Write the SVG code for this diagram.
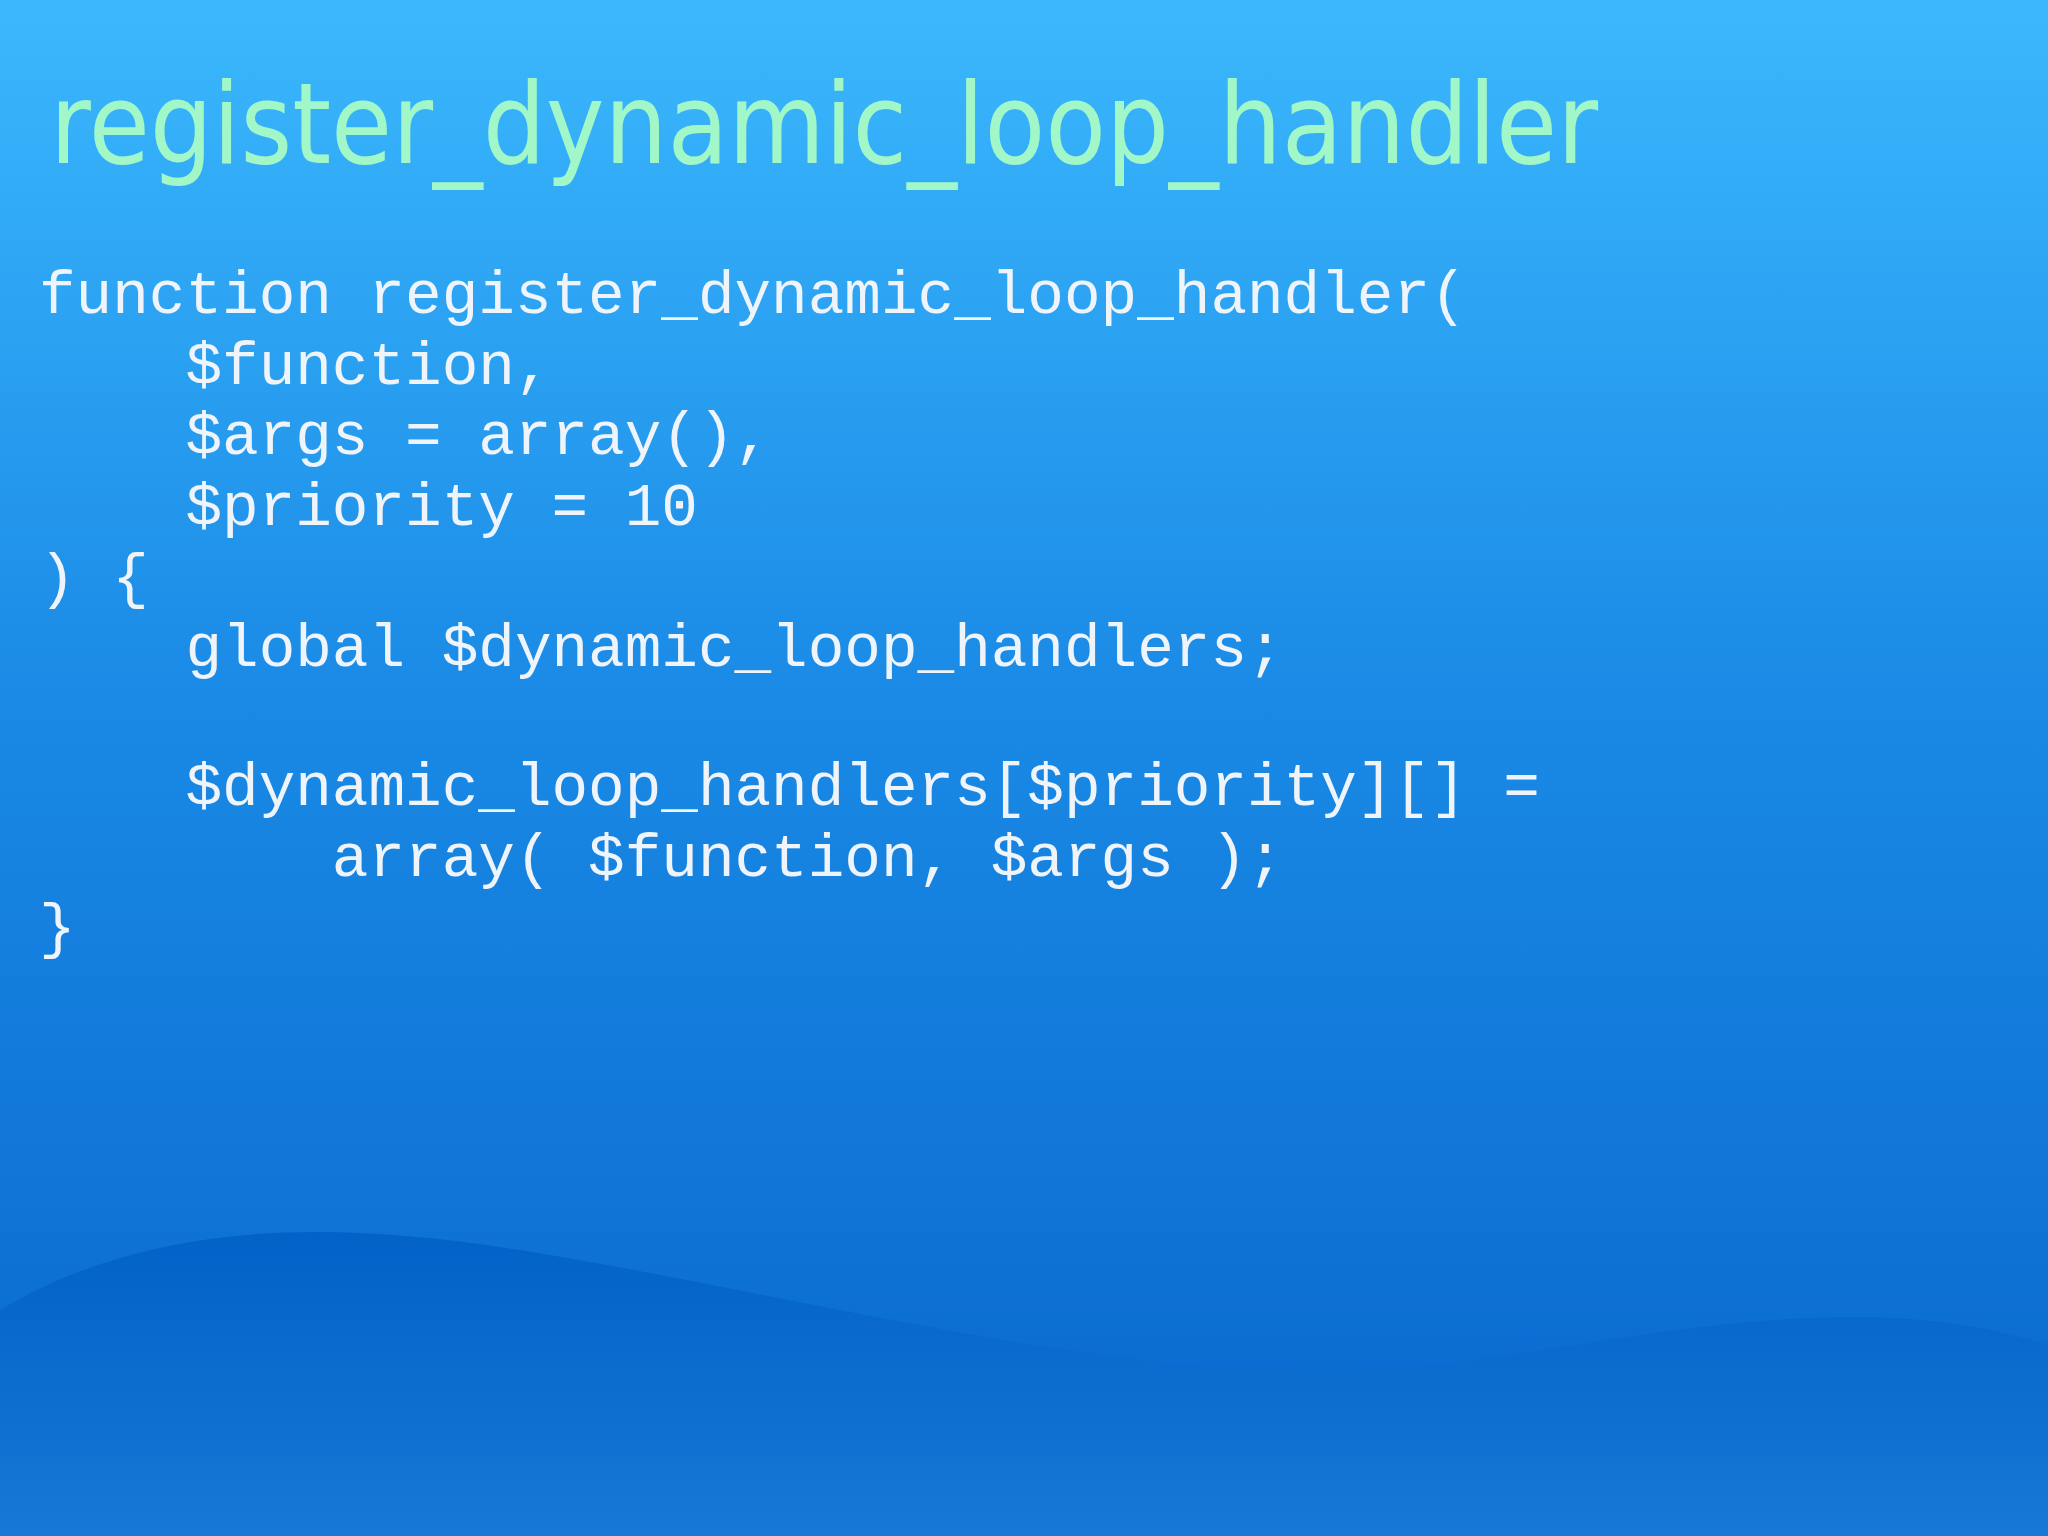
<svg xmlns="http://www.w3.org/2000/svg" width="2048" height="1536" viewBox="0 0 2048 1536">
<defs>
<linearGradient id="bg" x1="0" y1="0" x2="0" y2="1">
<stop offset="0" stop-color="#3bb8fd"/>
<stop offset="0.45" stop-color="#1a8ae6"/>
<stop offset="1" stop-color="#0866cc"/>
</linearGradient>
<linearGradient id="wave" x1="0" y1="0" x2="0" y2="1">
<stop offset="0" stop-color="#0060c6"/>
<stop offset="1" stop-color="#1a7ad8"/>
</linearGradient>
<style>
.code{font-family:"Liberation Mono","Courier New",monospace;font-size:61px;fill:#eef4fa;white-space:pre}
.title{font-family:"DejaVu Sans","Verdana",sans-serif;font-size:112px;fill:#a2f7c8}
</style>
</defs>
<rect width="2048" height="1536" fill="url(#bg)"/>
<path d="M0 1310 C150 1220 330 1220 520 1250 C800 1295 1150 1390 1400 1370 C1620 1345 1850 1280 2048 1345 L2048 1536 L0 1536 Z" fill="url(#wave)" opacity="0.9"/>
<g id="title"><text class="title" x="50" y="163" textLength="1548" lengthAdjust="spacingAndGlyphs">register_dynamic_loop_handler</text></g>
<g id="code">
<text class="code" x="39" y="313">function register_dynamic_loop_handler(</text>
<text class="code" x="39" y="384">    $function,</text>
<text class="code" x="39" y="454">    $args = array(),</text>
<text class="code" x="39" y="525">    $priority = 10</text>
<text class="code" x="39" y="596">) {</text>
<text class="code" x="39" y="666">    global $dynamic_loop_handlers;</text>
<text class="code" x="39" y="805">    $dynamic_loop_handlers[$priority][] =</text>
<text class="code" x="39" y="876">        array( $function, $args );</text>
<text class="code" x="39" y="946">}</text>
</g>
</svg>
